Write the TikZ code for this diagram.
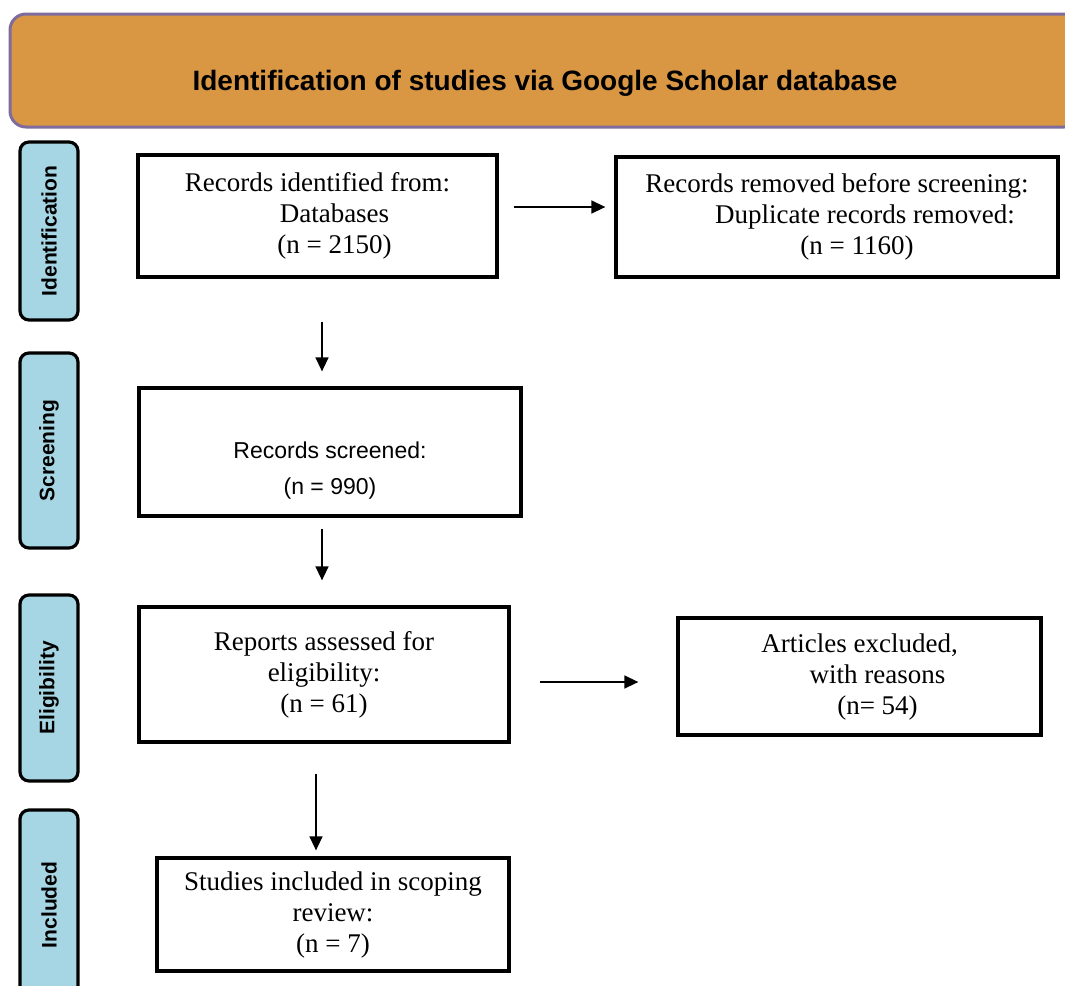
\documentclass[tikz,border=0pt]{standalone}
\usepackage{fontspec}
\setmainfont{Liberation Serif}
\setsansfont{Liberation Sans}
\usepackage{xcolor}
\usetikzlibrary{arrows.meta,positioning,calc}
\definecolor{headfill}{HTML}{D99643}
\definecolor{headline}{HTML}{7E6C9F}
\definecolor{stagefill}{HTML}{A6D6E3}

\begin{document}
\begin{tikzpicture}[x=1pt,y=-1pt,
  head/.style={draw=headline,line width=3pt,fill=headfill,rounded corners=16pt,minimum width=1070pt,minimum height=113pt},
  headtxt/.style={font=\sffamily\bfseries\fontsize{28}{32}\selectfont,inner sep=0pt},
  stage/.style={draw,line width=3.2pt,fill=stagefill,rounded corners=9pt,rotate=90,minimum height=58pt,font=\sffamily\bfseries\fontsize{21}{24}\selectfont},
  box/.style={draw,line width=3.3pt,align=center,font=\fontsize{27}{31}\selectfont},
  sanstxt/.style={align=center,font=\sffamily\fontsize{23}{36}\selectfont,inner sep=0pt},
  arr/.style={-{Triangle[length=14pt,width=13pt]},line width=1.5pt}
]
\useasboundingbox (0,0) rectangle (1065,985);

% header
\node[head] (head) at (545,70.5) {};
\node[headtxt] (title) at ([yshift=-12.5pt]head.center) {Identification of studies via Google Scholar database};

% stages
\node[stage,minimum width=178pt] (st1) at (49,231) {Identification};
\node[stage,minimum width=195pt] (st2) at (49,450.5) {Screening};
\node[stage,minimum width=186pt] (st3) at (49,688) {Eligibility};
\node[stage,minimum width=190pt] (st4) at (49,905) {Included};

% boxes
\node[box,minimum width=359pt,minimum height=122pt] (idf) at (317.5,216)
  {Records identified from:\\ \hspace*{34pt}Databases\\ \hspace*{34pt}(n = 2150)};
\node[box,minimum width=442pt,minimum height=120pt] (rem) at (837,217)
  {Records removed before screening:\\ \hspace*{56pt}Duplicate records removed:\\ \hspace*{40pt}(n = 1160)};
\node[box,minimum width=382pt,minimum height=128pt] (scr) at (330,452) {};
\node[sanstxt] (scrtxt) at ([yshift=-19pt]scr.center) {Records screened:\\(n = 990)};
\node[box,minimum width=370pt,minimum height=135pt] (elig) at (324,674.5)
  {Reports assessed for\\ eligibility:\\ (n = 61)};
\node[box,minimum width=363pt,minimum height=117pt] (excl) at (859.5,676.5)
  {Articles excluded,\\ \hspace*{36pt}with reasons\\ \hspace*{36pt}(n= 54)};
\node[box,minimum width=352pt,minimum height=113pt] (incl) at (333,914.5)
  {Studies included in scoping\\ review:\\ (n = 7)};

% arrows
\draw[arr,shorten <=15pt,shorten >=9pt] ($(idf.east)+(0,-9)$) -- ($(idf.east -| rem.west)+(0,-9)$);
\draw[arr,shorten <=43pt,shorten >=15pt] ($(idf.south)+(4.5,0)$) -- ($(idf.south |- scr.north)+(4.5,0)$);
\draw[arr,shorten <=11pt,shorten >=25pt] ($(scr.south)+(-8,0)$) -- ($(scr.south |- elig.north)+(-8,0)$);
\draw[arr,shorten <=29pt,shorten >=38pt] ($(elig.east)+(0,7.5)$) -- ($(elig.east -| excl.west)+(0,7.5)$);
\draw[arr,shorten <=30pt,shorten >=6pt] ($(elig.south)+(-8,0)$) -- ($(elig.south |- incl.north)+(-8,0)$);
\end{tikzpicture}
\end{document}
